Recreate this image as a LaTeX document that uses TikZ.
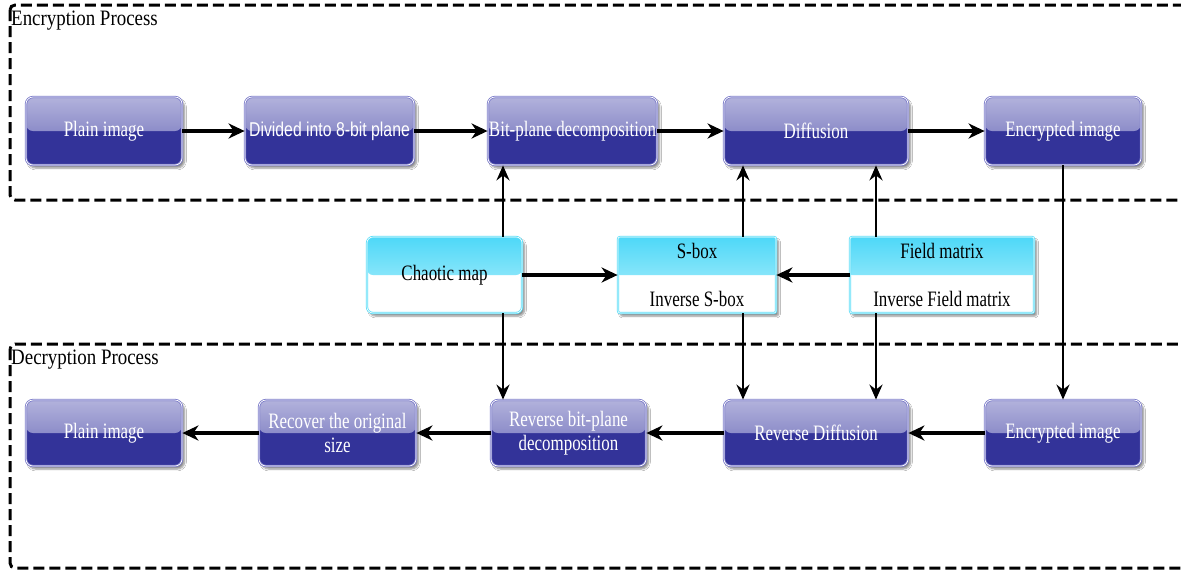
\documentclass[tikz,border=0pt]{standalone}
\usepackage{fontspec}
\setmainfont{Liberation Serif}
\newfontfamily\condf[FakeStretch=0.77]{Liberation Serif}
\newfontfamily\titlef[FakeStretch=0.86]{Liberation Serif}
\newfontfamily\arialf[FakeStretch=0.79]{Liberation Sans}
\usetikzlibrary{arrows.meta,shadows.blur}
\definecolor{navy}{RGB}{51,51,153}
\definecolor{navytop}{RGB}{178,178,220}
\definecolor{navymid}{RGB}{104,104,182}
\definecolor{navybrd}{RGB}{120,120,200}
\definecolor{cyantop}{RGB}{78,216,248}
\definecolor{cyanmid}{RGB}{190,242,252}
\definecolor{cyanbrd}{RGB}{90,222,248}
\tikzset{
  bluebox/.style={rounded corners=7pt, fill=navy, draw=navybrd, double=white,
    double distance=0.7pt, line width=0.8pt, text=white, align=center,
    font=\condf\fontsize{22}{24}\selectfont, inner sep=1pt,
    blur shadow={shadow xshift=2.5pt, shadow yshift=-3pt, shadow opacity=45, shadow blur steps=6},
    path picture={\fill[top color=navytop, bottom color=navymid]
      (path picture bounding box.north west) rectangle (path picture bounding box.east);}},
  cyanbox/.style={rounded corners=5pt, fill=white, draw=cyanbrd, double=white,
    double distance=0.6pt, line width=0.8pt, text=black, align=center,
    font=\condf\fontsize{22}{48}\selectfont, inner sep=1pt,
    blur shadow={shadow xshift=2.5pt, shadow yshift=-3pt, shadow opacity=45, shadow blur steps=6},
    path picture={\fill[top color=cyantop, bottom color=cyanmid]
      (path picture bounding box.north west) rectangle (path picture bounding box.east);}},
  frame/.style={draw=black, line width=3pt, dash pattern=on 11pt off 5pt, rounded corners=5pt},
  arr/.style={draw=black, line width=3.4pt, -{Stealth[length=16pt,width=15pt,inset=5pt]}},
  varr/.style={draw=black, line width=2.8pt, -{Stealth[length=15pt,width=13pt,inset=5pt]}},
  title/.style={anchor=north west, inner sep=0pt, font=\titlef\fontsize{22}{24}\selectfont}
}
\begin{document}
\begin{tikzpicture}[x=1pt,y=-1pt]
\useasboundingbox[fill=white] (0,0) rectangle (1181,574);
% frames
\draw[frame] (10,5) rectangle (1200,200);
\draw[frame] (10,344) rectangle (1200,568);
\node[title] (t1) at (11,11) {Encryption Process};
\node[title] (t2) at (11,350) {Decryption Process};
% top row
\node[bluebox, minimum width=156pt, minimum height=68pt] (p1) at (104,131) {Plain image};
\node[bluebox, minimum width=169pt, minimum height=68pt, font=\arialf\fontsize{20}{22}\selectfont] (d1) at (329.5,131) {Divided into 8-bit plane};
\node[bluebox, minimum width=163pt, minimum height=68pt] (b1) at (572.5,131) {Bit-plane decomposition};
\node[bluebox, minimum width=184pt, minimum height=68pt] (f1) at (816,131) {Diffusion};
\node[bluebox, minimum width=156pt, minimum height=68pt] (e1) at (1063,131) {Encrypted image};
% middle
\node[cyanbox, minimum width=155pt, minimum height=76pt, rounded corners=6pt, font=\condf\fontsize{22}{24}\selectfont] (cm) at (444.5,275) {Chaotic map};
\node[cyanbox, rounded corners=2pt, minimum width=158pt, minimum height=76pt] (sb) at (697,275) {S-box\\Inverse S-box};
\node[cyanbox, rounded corners=2pt, minimum width=184pt, minimum height=76pt] (fm) at (942,275) {Field matrix\\Inverse Field matrix};
% bottom row
\node[bluebox, minimum width=156pt, minimum height=66pt] (p2) at (104,433) {Plain image};
\node[bluebox, minimum width=157pt, minimum height=66pt] (r2) at (337.5,433) {Recover the original\\size};
\node[bluebox, minimum width=155pt, minimum height=66pt] (b2) at (568.5,433) {Reverse bit-plane\\decomposition};
\node[bluebox, minimum width=184pt, minimum height=66pt] (f2) at (816,433) {Reverse Diffusion};
\node[bluebox, minimum width=156pt, minimum height=66pt] (e2) at (1063,433) {Encrypted image};
% top connectors
\draw[arr] (p1.east) -- (d1.west);
\draw[arr] (d1.east) -- (b1.west);
\draw[arr] (b1.east) -- (f1.west);
\draw[arr] (f1.east) -- (e1.west);
% bottom connectors
\draw[arr] (e2.west) -- (f2.east);
\draw[arr] (f2.west) -- (b2.east);
\draw[arr] (b2.west) -- (r2.east);
\draw[arr] (r2.west) -- (p2.east);
% middle connectors
\draw[arr] (cm.east) -- (sb.west);
\draw[arr] (fm.west) -- (sb.east);
% verticals
\draw[varr] ([xshift=58.5pt]cm.north) -- ([xshift=58.5pt]cm.north |- b1.south);
\draw[varr] ([xshift=58.5pt]cm.south) -- ([xshift=58.5pt]cm.south |- b2.north);
\draw[varr] ([xshift=46pt]sb.north) -- ([xshift=46pt]sb.north |- f1.south);
\draw[varr] ([xshift=46pt]sb.south) -- ([xshift=46pt]sb.south |- f2.north);
\draw[varr] ([xshift=-66pt]fm.north) -- ([xshift=-66pt]fm.north |- f1.south);
\draw[varr] ([xshift=-66pt]fm.south) -- ([xshift=-66pt]fm.south |- f2.north);
\draw[varr] (e1.south) -- (e2.north);
\end{tikzpicture}
\end{document}
